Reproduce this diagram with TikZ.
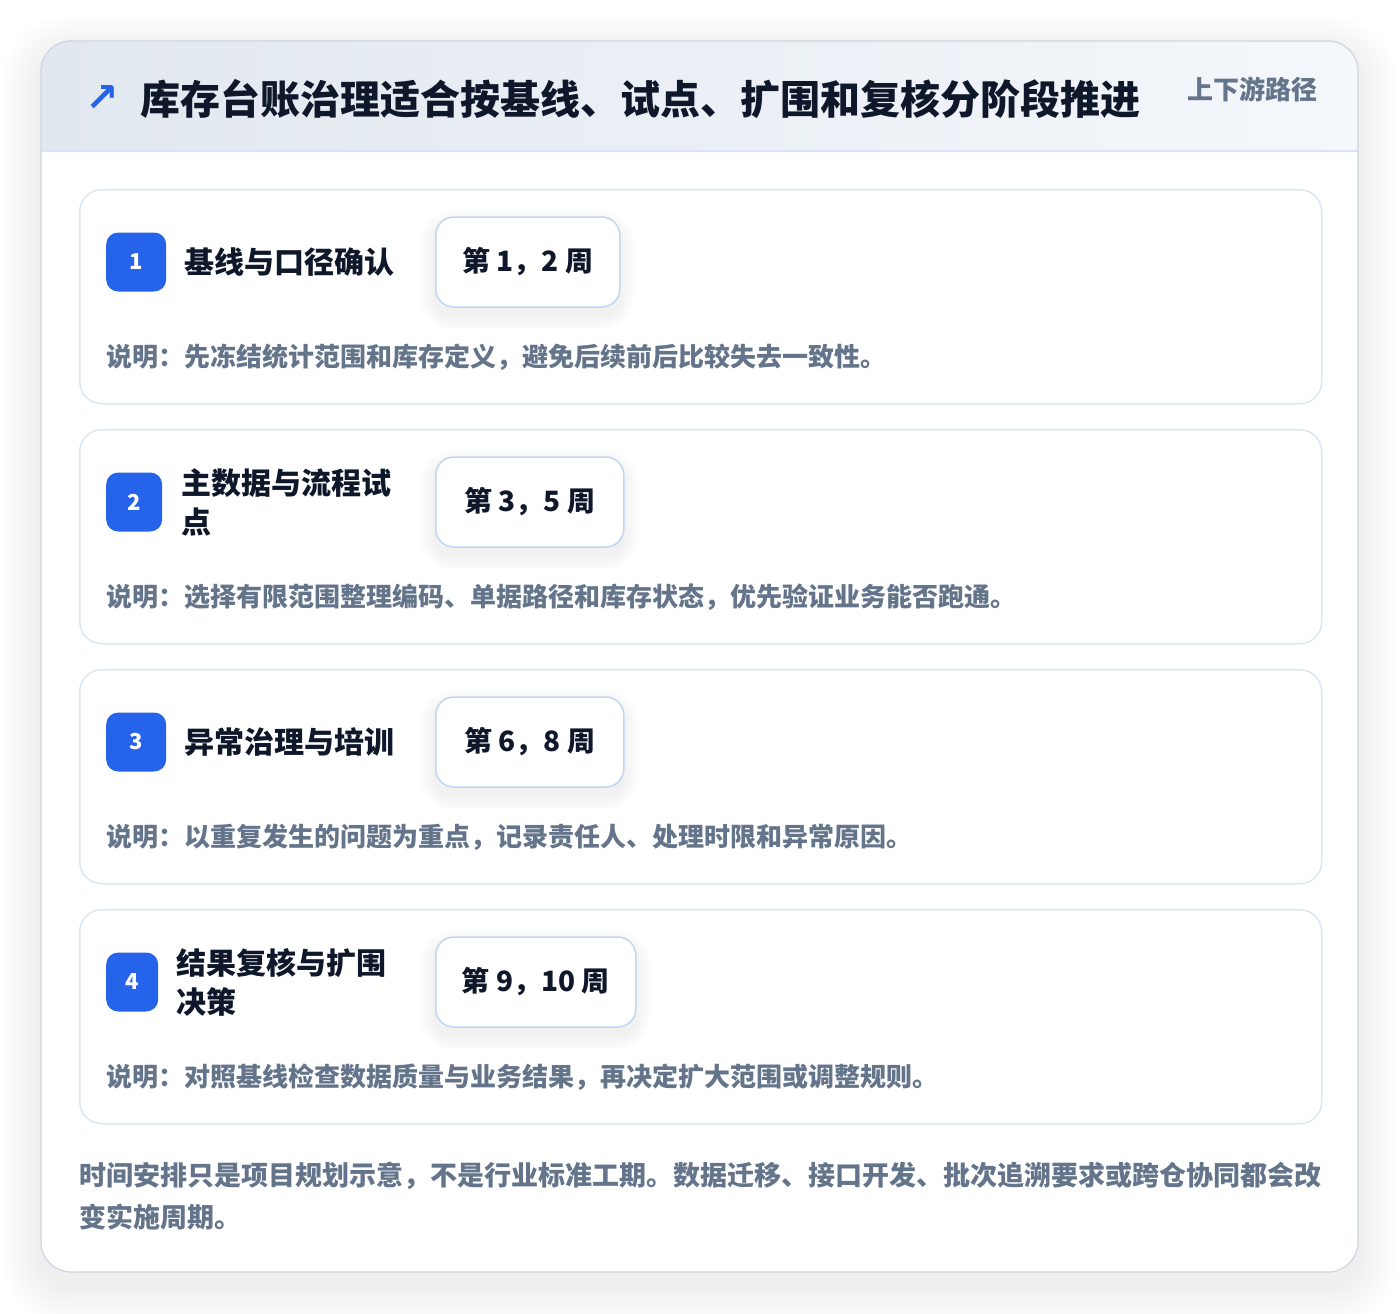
\documentclass[tikz,border=0pt]{standalone}
\usepackage{fontspec}
\setmainfont{Noto Sans CJK SC}
\newfontfamily\symfont{DejaVu Sans}
\definecolor{ink}{HTML}{0F172A}
\definecolor{muted}{HTML}{64748B}
\definecolor{accent}{HTML}{2563EB}
\definecolor{cardline}{HTML}{DBE7F5}
\definecolor{pillline}{HTML}{BFD6F2}
\definecolor{outerline}{HTML}{CDD5E0}
\definecolor{headL}{HTML}{E2E8F0}
\definecolor{headR}{HTML}{F4F7FB}
\definecolor{headrule}{HTML}{D6E4F5}
\definecolor{shade}{HTML}{1E293B}
\tikzset{
  stagecard/.style={draw=cardline, line width=1.5pt, fill=white, rounded corners=22pt},
  badge/.style={fill=accent, rounded corners=12pt, text=white, font=\bfseries\fontsize{22}{26}\selectfont,
    inner sep=0pt, minimum height=59pt},
  stagetitle/.style={anchor=west, text=ink, font=\bfseries\fontsize{30}{39}\selectfont, align=left, inner sep=0pt},
  pill/.style={draw=pillline, line width=1.5pt, fill=white, rounded corners=18pt, text=ink,
    font=\bfseries\fontsize{28}{32}\selectfont, inner sep=0pt, minimum height=90pt},
  desc/.style={anchor=west, text=muted, font=\bfseries\fontsize{26}{30}\selectfont, inner sep=0pt},
  shadowlayer/.style={fill=shade, fill opacity=#1},
}
\begin{document}
\begin{tikzpicture}[x=1pt, y=-1pt]
\useasboundingbox (0,0) rectangle (1400,1314);
\fill[white] (0,0) rectangle (1400,1314);
% outer card soft shadow
\foreach \k in {1,...,16}{
  \pgfmathsetmacro{\e}{\k*2.6}
  \pgfmathsetmacro{\r}{30+\e}
  \fill[shadowlayer=0.005, rounded corners=\r pt] (41-\e,55-\e) rectangle (1358+\e,1286+\e);
}
% outer card
\fill[white, rounded corners=30pt] (41,41) rectangle (1358,1272);
\begin{scope}
  \clip[rounded corners=30pt] (41,41) rectangle (1358,1272);
  \fill[left color=headL, right color=headR] (41,41) rectangle (1358,151);
  \draw[headrule, line width=1.5pt] (41,151) -- (1358,151);
\end{scope}
\draw[outerline, line width=1.2pt, rounded corners=30pt] (41,41) rectangle (1358,1272);
% header
\node[anchor=center, text=accent, inner sep=0pt, font=\symfont\bfseries\fontsize{40}{40}\selectfont] (icon) at (102,99) {↗};
\node[anchor=west, text=ink, inner sep=0pt, font=\bfseries\fontsize{40}{44}\selectfont] (title) at (140,99) {库存台账治理适合按基线、试点、扩围和复核分阶段推进};
\node[anchor=east, text=muted, inner sep=0pt, font=\bfseries\fontsize{26}{30}\selectfont] (tag) at (1318,89) {上下游路径};
% stage cards
\foreach \i/\top/\bw/\tx/\ttl/\pw/\wk/\dsc in {
  1/189/60/184/{基线与口径确认}/184/{第 1，2 周}/{说明：先冻结统计范围和库存定义，避免后续前后比较失去一致性。},
  2/429/56/181/{主数据与流程试\\点}/188/{第 3，5 周}/{说明：选择有限范围整理编码、单据路径和库存状态，优先验证业务能否跑通。},
  3/669/60/184/{异常治理与培训}/188/{第 6，8 周}/{说明：以重复发生的问题为重点，记录责任人、处理时限和异常原因。},
  4/909/52/176/{结果复核与扩围\\决策}/200/{第 9，10 周}/{说明：对照基线检查数据质量与业务结果，再决定扩大范围或调整规则。}}{
  \node[stagecard, minimum width=1242pt, minimum height=214pt, anchor=north west, inner sep=0pt] (card\i) at (79,\top) {};
  \node[badge, minimum width=\bw pt, anchor=west] (badge\i) at (106,\top+73) {\i};
  \node[stagetitle] (stitle\i) at (\tx,\top+73) {\ttl};
  \foreach \k in {1,...,7}{
    \pgfmathsetmacro{\e}{\k*2.2}
    \pgfmathsetmacro{\r}{18+\e}
    \fill[shadowlayer=0.006, rounded corners=\r pt] (435-\e,\top+36-\e) rectangle (435+\pw+\e,\top+126+\e);
  }
  \node[pill, minimum width=\pw pt, anchor=west] (week\i) at (435,\top+73) {\wk};
  \node[desc] (desc\i) at (106,\top+168) {\dsc};
}
% footer
\node[anchor=north west, text=muted, align=left, inner sep=0pt, font=\bfseries\fontsize{27}{42}\selectfont] (note) at (79,1162) {时间安排只是项目规划示意，不是行业标准工期。数据迁移、接口开发、批次追溯要求或跨仓协同都会改\\变实施周期。};
\end{tikzpicture}
\end{document}
